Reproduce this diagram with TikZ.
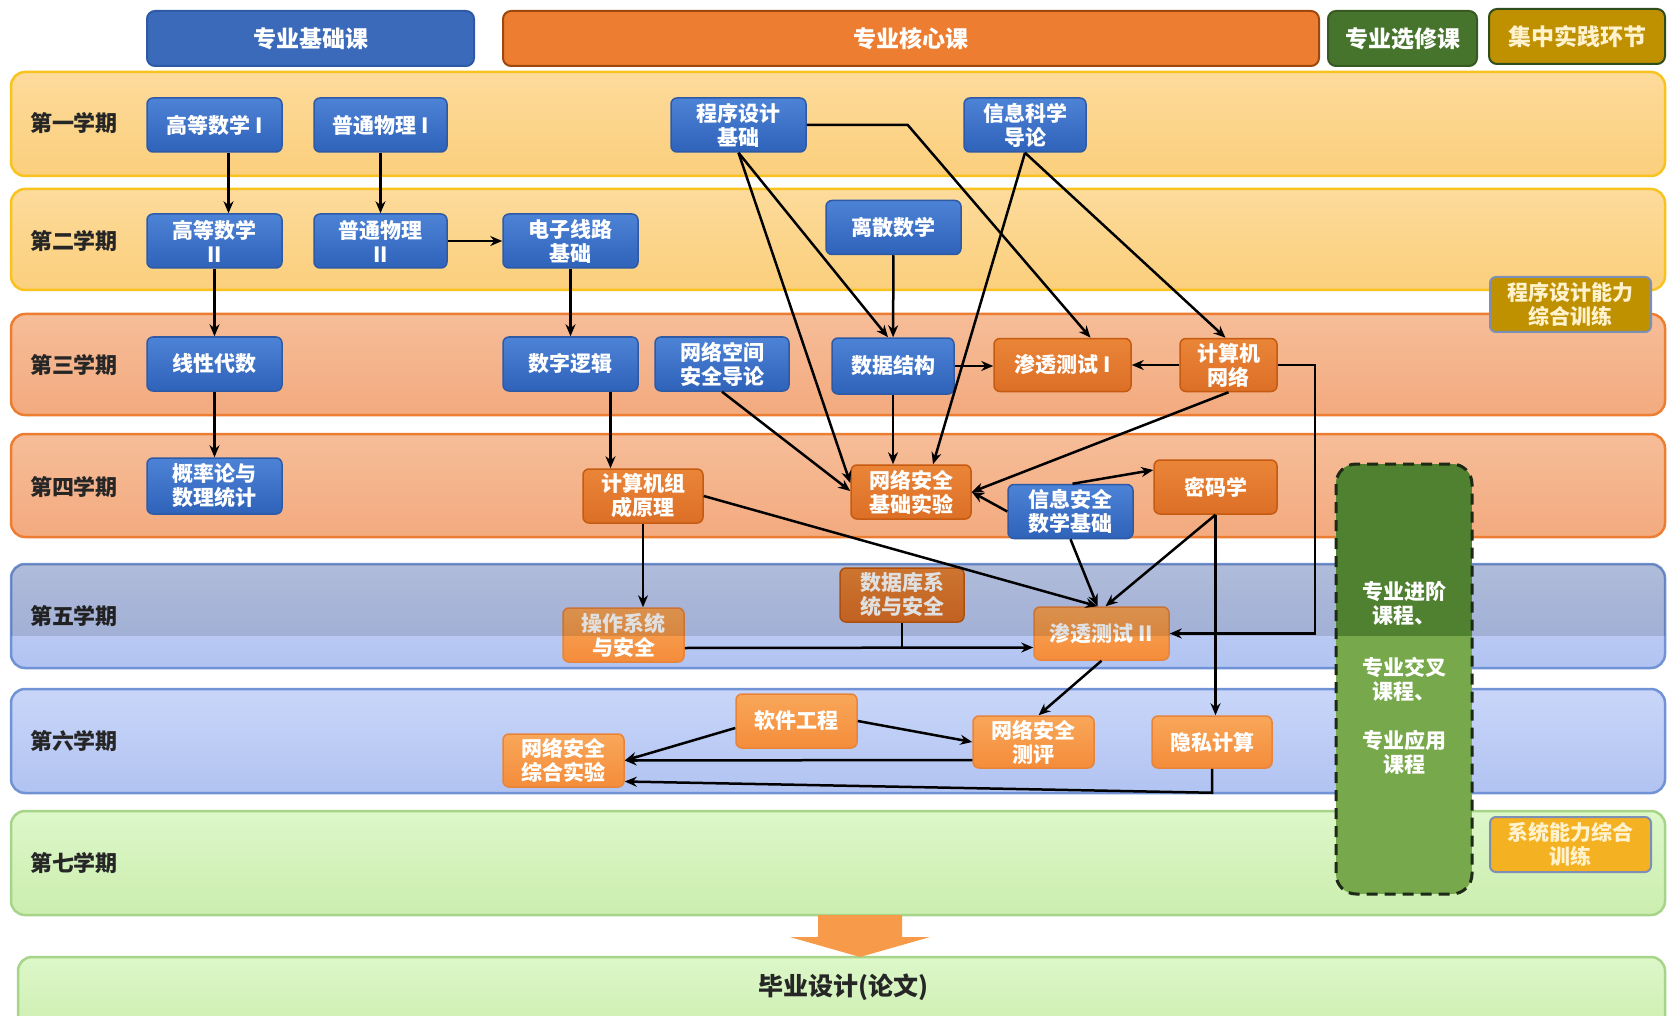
\documentclass[tikz,border=0pt]{standalone}
\usepackage{fontspec}
\setmainfont{Noto Sans CJK SC}
\usetikzlibrary{arrows.meta}

\definecolor{yelhi}{HTML}{FDDB9B}
\definecolor{yello}{HTML}{FBCF7C}
\definecolor{yelline}{HTML}{F9C31F}
\definecolor{salhi}{HTML}{F6BD98}
\definecolor{sallo}{HTML}{F3AA7F}
\definecolor{salline}{HTML}{ED7D31}
\definecolor{bluhi}{HTML}{C9D6F9}
\definecolor{blulo}{HTML}{B1C3F1}
\definecolor{bluline}{HTML}{7192D4}
\definecolor{grnhi}{HTML}{DDF7C9}
\definecolor{grnlo}{HTML}{CBEEAF}
\definecolor{grnline}{HTML}{A6D58A}
\definecolor{fundhi}{HTML}{4D83D7}
\definecolor{fundlo}{HTML}{2F62B9}
\definecolor{fundline}{HTML}{2E5AA5}
\definecolor{corehi}{HTML}{EA8538}
\definecolor{corelo}{HTML}{DC6F26}
\definecolor{coreline}{HTML}{C55A11}
\definecolor{latehi}{HTML}{F9A759}
\definecolor{latelo}{HTML}{F48C3B}
\definecolor{lateline}{HTML}{E8843A}
\definecolor{gold}{HTML}{BF9000}
\definecolor{goldtxt}{HTML}{FFF2CC}
\definecolor{amber}{HTML}{F4B122}
\definecolor{pracline}{HTML}{7C8FB5}
\definecolor{elecdark}{HTML}{4F8131}
\definecolor{eleclight}{HTML}{77A94C}
\definecolor{elecline}{HTML}{1E2A17}
\definecolor{bigarrow}{HTML}{F79A4A}
\definecolor{labeltxt}{HTML}{262626}

\begin{document}
\begin{tikzpicture}[x=1pt,y=-1pt,
  band/.style={draw,line width=2.5pt,rounded corners=14pt},
  hdr/.style={draw,line width=2pt,rounded corners=8pt,text=white,font=\fontsize{23}{27}\selectfont\bfseries,minimum height=55pt,inner sep=0pt},
  sem/.style={font=\fontsize{22}{26}\selectfont\bfseries,text=labeltxt},
  fund/.style={draw=fundline,top color=fundhi,bottom color=fundlo,line width=1.5pt,rounded corners=6pt,text=white,font=\fontsize{21}{24}\selectfont\bfseries,align=center,minimum height=54pt,minimum width=135pt,inner sep=0pt},
  core/.style={fund,draw=coreline,top color=corehi,bottom color=corelo},
  late/.style={fund,draw=lateline,top color=latehi,bottom color=latelo},
  prac/.style={fund,draw=pracline,line width=2pt,text=goldtxt,minimum width=161pt,minimum height=55pt},
  elec/.style={text=white,font=\fontsize{21}{24}\selectfont\bfseries,align=center},
  link/.style={line width=2.5pt,-{Stealth[length=12pt,width=10pt]}},
  feed/.style={line width=2.5pt}
]
\useasboundingbox (0,0) rectangle (1668,1016);

% semester bands
\draw[band,draw=yelline,top color=yelhi,bottom color=yello] (11,72) rectangle (1665,176);
\draw[band,draw=yelline,top color=yelhi,bottom color=yello] (11,189) rectangle (1665,290);
\draw[band,draw=salline,top color=salhi,bottom color=sallo] (11,314) rectangle (1665,415);
\draw[band,draw=salline,top color=salhi,bottom color=sallo] (11,434) rectangle (1665,537);
\draw[band,draw=bluline,top color=bluhi,bottom color=blulo] (11,564) rectangle (1665,668);
\draw[band,draw=bluline,top color=bluhi,bottom color=blulo] (11,689) rectangle (1665,793);
\draw[band,draw=grnline,top color=grnhi,bottom color=grnlo] (11,811) rectangle (1665,915);
\draw[band,draw=grnline,top color=grnhi,bottom color=grnlo] (18,957) rectangle (1665,1040);

% headers
\draw (310.5,38.5) node(FUND)[hdr,fill=fundline!60!fundhi,draw=fundline,minimum width=327pt]{专业基础课};
\draw (911,38.5) node(CORE)[hdr,fill=salline,draw=coreline!80!black,minimum width=816pt]{专业核心课};
\draw (1402.5,38.5) node(ELEC)[hdr,fill=elecdark!90!black,draw=elecdark!70!black,minimum width=149pt]{专业选修课};
\draw (1577,36.5) node(PRAC)[hdr,fill=gold,draw=elecdark!60!black,text=goldtxt,minimum width=176pt]{集中实践环节};

% semester labels
\draw (74,123) node(S1)[sem]{第一学期};
\draw (74,241) node(S2)[sem]{第二学期};
\draw (74,365) node(S3)[sem]{第三学期};
\draw (74,487) node(S4)[sem]{第四学期};
\draw (74,616) node(S5)[sem]{第五学期};
\draw (74,741) node(S6)[sem]{第六学期};
\draw (74,863) node(S7)[sem]{第七学期};

% courses
\draw (214.5,125) node(GS1)[fund]{高等数学 I};
\draw (380.5,125) node(WL1)[fund,minimum width=133pt]{普通物理 I};
\draw (738.5,125) node(CX)[fund]{程序设计\\基础};
\draw (1025,125) node(XK)[fund,minimum width=122pt]{信息科学\\导论};
\draw (214.5,241) node(GS2)[fund]{高等数学\\II};
\draw (380.5,241) node(WL2)[fund,minimum width=133pt]{普通物理\\II};
\draw (570.5,241) node(DZ)[fund]{电子线路\\基础};
\draw (893.5,227.5) node(LS)[fund]{离散数学};
\draw (214.5,364) node(XD)[fund]{线性代数};
\draw (570.5,364) node(SZ)[fund]{数字逻辑};
\draw (722,364) node(WK)[fund,minimum width=134pt]{网络空间\\安全导论};
\draw (893,366) node(SJ)[fund,minimum width=122pt,minimum height=56pt]{数据结构};
\draw (214.5,486) node(GL)[fund,minimum height=56pt]{概率论与\\数理统计};
\draw (1070.5,511.5) node(XA)[fund,minimum width=125pt]{信息安全\\数学基础};

\draw (1062.5,365) node(ST1)[core,minimum width=137pt,minimum height=53pt]{渗透测试 I};
\draw (1228.5,365) node(JW)[core,minimum width=97pt,minimum height=53pt]{计算机\\网络};
\draw (643,496) node(ZC)[core,minimum width=120pt]{计算机组\\成原理};
\draw (911,492) node(WJ)[core,minimum width=120pt]{网络安全\\基础实验};
\draw (1215.5,487) node(MM)[core,minimum width=123pt]{密码学};
\draw (902,595) node(SK)[core,minimum width=124pt]{数据库系\\统与安全};

\draw (623.5,635) node(CZ)[late,minimum width=121pt]{操作系统\\与安全};
\draw (1101.5,633.5) node(ST2)[late,minimum height=53pt]{渗透测试 II};
\draw (796.5,721) node(RG)[late,minimum width=121pt]{软件工程};
\draw (1033.5,742) node(CP)[late,minimum width=121pt,minimum height=52pt]{网络安全\\测评};
\draw (1212,742) node(YS)[late,minimum width=120pt,minimum height=52pt]{隐私计算};
\draw (563.5,760.5) node(ZS)[late,minimum width=121pt,minimum height=53pt]{网络安全\\综合实验};

\draw (1570.5,304.5) node(PT)[prac,top color=gold,bottom color=gold]{程序设计能力\\综合训练};
\draw (1570.5,844.5) node(XT)[prac,top color=amber,bottom color=amber]{系统能力综合\\训练};

% prerequisites
\draw[link] ([xshift=14pt]GS1.south) -- ([xshift=14pt]GS2.north);
\draw[link] (GS2) -- (XD);
\draw[link] (XD) -- (GL);
\draw[link] (WL1) -- (WL2);
\draw[link] (WL2) -- (DZ);
\draw[link] (DZ) -- (SZ);
\draw[link] ([xshift=40pt]SZ.south) -- ([xshift=40pt]SZ.south |- ZC.north);
\draw[link] (ZC.south) -- (ZC.south |- CZ.north);
\draw[link] (CX.east) -- ++(101,0) -- ([xshift=28pt]ST1.north);
\draw[link] (CX.south) -- ([xshift=-5pt]SJ.north);
\draw[link] (CX.south) -- ([yshift=9pt]WJ.west);
\draw[link] (WK.south) -- ([yshift=1pt]WJ.west);
\draw[link] (LS) -- (SJ);
\draw[link] (XK.south) -- ([xshift=22pt]WJ.north);
\draw[link] (XK.south) -- ([xshift=-3pt]JW.north);
\draw[link] (SJ.east) -- (SJ.east -| ST1.west);
\draw[link] (JW.west) -- (JW.west -| ST1.east);
\draw[link] (SJ.south) -- (SJ.south |- WJ.north);
\draw[link] (JW.south) -- (WJ.east);
\draw[link] (XA.west) -- (WJ.east);
\draw[link] ([xshift=2pt]XA.north) -- ([yshift=17pt]MM.west);
\draw[link] (XA.south) -- ([xshift=-4pt]ST2.north);
\draw[link] (MM.south) -- ([xshift=4pt]ST2.north);
\draw[link] (ZC.east) -- ([xshift=-4pt]ST2.north);
\draw[link] (MM.south) -- (MM.south |- YS.north);
\draw[link] (JW.east) -- ++(37,0) |- (ST2.east);
\draw[link] ([yshift=-13pt]CZ.east) -- ([yshift=-14pt]ST2.west);
\draw[feed] (SK.south) -- ++(0,26);
\draw[link] (ST2.south) -- ([xshift=5pt]CP.north);
\draw[link] (RG.east) -- (CP.west);
\draw[link] ([yshift=-7pt]RG.west) -- (ZS.east);
\draw[link] ([yshift=-18pt]CP.west) -- (ZS.east);
\draw[link] (YS.south) -- ++(0,24) -- ([yshift=-21pt]ZS.east);

% shade on the upper part of the fifth semester
\begin{scope}
\clip[rounded corners=14pt] (11,564) rectangle (1665,668);
\fill[black,opacity=0.12] (0,560) rectangle (1668,636);
\end{scope}

% elective block
\begin{scope}
\clip[rounded corners=20pt] (1336,464) rectangle (1472,894);
\fill[eleclight] (1336,464) rectangle (1472,894);
\fill[elecdark] (1336,464) rectangle (1472,636);
\end{scope}
\draw[draw=elecline,line width=3pt,dash pattern=on 11pt off 7pt,rounded corners=20pt] (1336,464) rectangle (1472,894);
\draw (1404,603) node(EV1)[elec]{专业进阶\\课程、};
\draw (1404,679) node(EV2)[elec]{专业交叉\\课程、};
\draw (1404,752) node(EV3)[elec]{专业应用\\课程};

% thesis
\fill[bigarrow] (818,915) -- (902,915) -- (902,937) -- (930,937) -- (860,957) -- (790,937) -- (818,937) -- cycle;
\draw (843,987) node(BY)[sem,font=\fontsize{25}{29}\selectfont\bfseries]{毕业设计(论文)};

\end{tikzpicture}
\end{document}
